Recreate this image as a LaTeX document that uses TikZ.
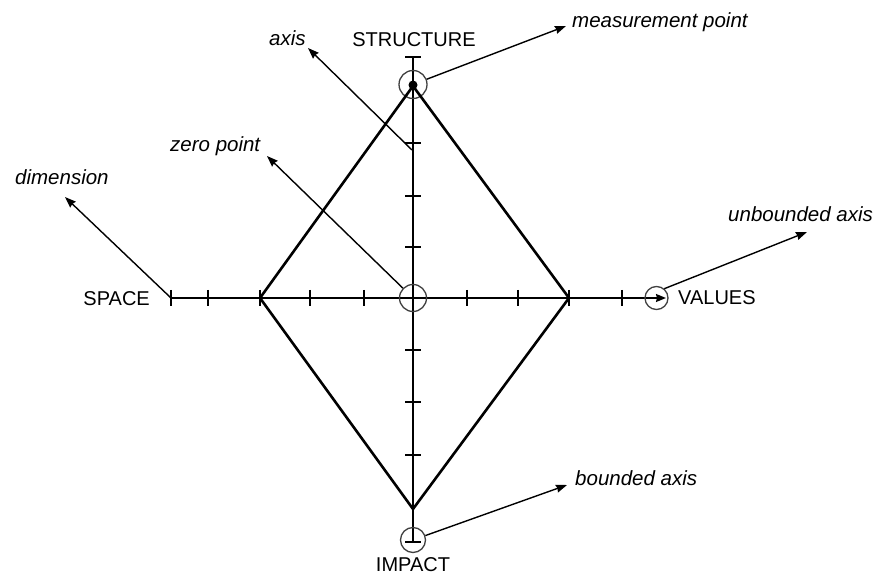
\documentclass[tikz,border=0pt]{standalone}
\usepackage{fontspec}
\setmainfont{Liberation Sans}
\usetikzlibrary{arrows.meta}
\begin{document}
\begin{tikzpicture}[x=1pt,y=-1pt,
  axisline/.style={line width=1.5pt},
  edgeline/.style={line width=2.6pt,line join=miter},
  pointer/.style={line width=1.4pt,-{Stealth[length=11pt,width=8pt,inset=1pt]}},
  ring/.style={circle,draw=black!75,line width=1.3pt,inner sep=0pt,minimum size=#1},
  dimname/.style={font=\fontsize{20}{24}\selectfont,inner sep=0pt},
  remark/.style={font=\fontsize{20.5}{24}\selectfont\itshape,inner sep=0pt,anchor=base west}]
\useasboundingbox (0,0) rectangle (878,577);

% axes
\coordinate (O) at (413,298);
\coordinate (topEnd) at (413,57);
\coordinate (botEnd) at (413,542);
\coordinate (leftEnd) at (171,298);
\coordinate (rightEnd) at (666,298);
\draw[axisline] (topEnd) -- (botEnd);
\draw[axisline,-{Stealth[length=10pt,width=8pt,inset=1pt]}] (leftEnd) -- (rightEnd);

% tick marks
\foreach \x in {171,208,260,310,364,467,518,569,622}
  \draw[axisline] (\x,290) -- (\x,306);
\foreach \y in {57,143,196,247,350,402,455,542}
  \draw[axisline] (405,\y) -- (421,\y);

% rings
\node[ring=27pt] (zero) at (O) {};
\node[ring=28pt] (mring) at (413,84.5) {};
\node[ring=25pt] (bring) at (413,540) {};
\node[ring=23pt] (uring) at (656.5,298) {};

% value polygon
\coordinate (pTop) at (413,86);
\coordinate (pRight) at (569,298);
\coordinate (pBot) at (413,509);
\coordinate (pLeft) at (260,298);
\draw[edgeline] (pTop) -- (pRight) -- (pBot) -- (pLeft) -- cycle;
\fill (413,85) circle (4.5pt);

% dimension names
\node[dimname] (structure) at (414,40) {STRUCTURE};
\node[dimname,anchor=east] (space) at (150,299) {SPACE};
\node[dimname,anchor=west] (values) at (678,298) {VALUES};
\node[dimname] (impact) at (413,565) {IMPACT};

% annotations
\node[remark] (tMeas) at (572,28) {measurement point};
\node[remark] (tAxis) at (269,46) {axis};
\node[remark] (tZero) at (170,152) {zero point};
\node[remark] (tDim) at (15,185) {dimension};
\node[remark] (tUnb) at (728,222) {unbounded axis};
\node[remark] (tBnd) at (575,485) {bounded axis};

\coordinate (aMeas) at (566,26);
\coordinate (aAxis) at (308,48);
\coordinate (aZero) at (267,156);
\coordinate (aDim) at (65,197);
\coordinate (aUnb) at (807,232);
\coordinate (aBnd) at (567,485);
\coordinate (axisFoot) at (412,150);

\draw[pointer] (mring) -- (aMeas);
\draw[pointer] (axisFoot) -- (aAxis);
\draw[pointer] (zero) -- (aZero);
\draw[pointer] (leftEnd) -- (aDim);
\draw[pointer] (uring.50) -- (aUnb);
\draw[pointer] (bring) -- (aBnd);
\end{tikzpicture}
\end{document}
